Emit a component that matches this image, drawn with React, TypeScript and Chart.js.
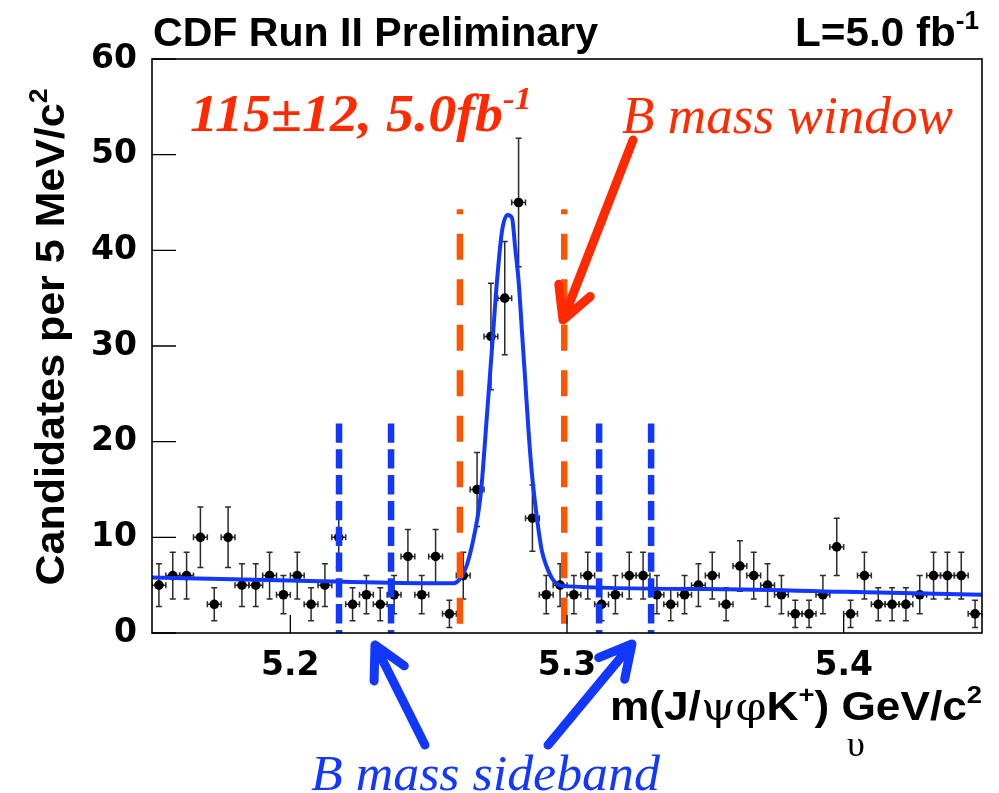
import React, { useEffect, useRef } from "react";
import { Chart, registerables } from "chart.js";

Chart.register(...registerables);

// ---------------- data ----------------
const X_MIN = 5.15;
const X_MAX = 5.45;
const Y_MIN = 0;
const Y_MAX = 60;
const BIN_WIDTH = 0.005;
const X_TICKS = [5.2, 5.3, 5.4];
const Y_TICKS = [0, 10, 20, 30, 40, 50, 60];

const BIN_CENTERS = [
  5.1525, 5.1575, 5.1625, 5.1675, 5.1725, 5.1775, 5.1825, 5.1875, 5.1925, 5.1975,
  5.2025, 5.2075, 5.2125, 5.2175, 5.2225, 5.2275, 5.2325, 5.2375, 5.2425, 5.2475,
  5.2525, 5.2575, 5.2625, 5.2675, 5.2725, 5.2775, 5.2825, 5.2875, 5.2925, 5.2975,
  5.3025, 5.3075, 5.3125, 5.3175, 5.3225, 5.3275, 5.3325, 5.3375, 5.3425, 5.3475,
  5.3525, 5.3575, 5.3625, 5.3675, 5.3725, 5.3775, 5.3825, 5.3875, 5.3925, 5.3975,
  5.4025, 5.4075, 5.4125, 5.4175, 5.4225, 5.4275, 5.4325, 5.4375, 5.4425, 5.4475,
];

const COUNTS = [
  5, 6, 6, 10, 3, 10, 5, 5, 6, 4,
  6, 3, 5, 10, 3, 4, 3, 4, 8, 4,
  8, 2, 6, 15, 31, 35, 45, 12, 4, 5,
  4, 6, 3, 4, 6, 6, 4, 3, 4, 5,
  6, 3, 7, 6, 5, 4, 2, 2, 4, 9,
  2, 6, 3, 3, 3, 4, 6, 6, 6, 2,
];

// fit curve
const FIT_MASS = [
  5.15, 5.2, 5.25, 5.2589, 5.2614, 5.2638, 5.2661, 5.2679, 5.269, 5.2711, 5.2729,
  5.2747, 5.2765, 5.2785, 5.2801, 5.2813, 5.2825, 5.2837, 5.2849, 5.2861, 5.2873,
  5.2891, 5.2909, 5.2927, 5.2951, 5.2988, 5.35, 5.4, 5.45,
];
const FIT_VALUES = [
  5.8, 5.5, 5.2, 5.2, 5.7, 7.1, 9.7, 12.5, 15.0, 22.9, 29.8,
  36.8, 42.0, 43.7, 43.4, 40.2, 36.8, 31.6, 26.4, 21.1, 16.7,
  12.1, 8.6, 6.9, 5.5, 4.9, 4.6, 4.3, 4.0,
];

const WINDOW_EDGES = [5.2613, 5.299];
const WINDOW_TOP = 44.3;
const SIDEBAND_EDGES = [5.2176, 5.2364, 5.3116, 5.3304];
const SIDEBAND_TOP = 21.9;

// arrows: [tailX, tailY, tipX, tipY] in axis units
const RED_ARROW = [5.32385, 51.53, 5.29855, 32.72];
const BLUE_ARROWS = [
  [5.24867, -11.71, 5.2306, -1.25],
  [5.29313, -11.71, 5.32349, -1.15],
];

// ---------------- styles ----------------
const RED = "#ff2a00";
const ORANGE = "#ff5500";
const BLUE = "#1238ff";
const SANS = "'Liberation Sans', Arial, sans-serif";
const SERIF = "'Liberation Serif', 'Times New Roman', serif";
const TICK_FONT = "'DejaVu Sans', sans-serif";

type Seg = { t: string; sup?: boolean; weight?: string; family?: string };

function drawRich(
  ctx: CanvasRenderingContext2D,
  segs: Seg[],
  o: {
    x: number;
    y: number;
    size: number;
    family: string;
    weight?: string;
    style?: string;
    color: string;
    width?: number;
    align?: "left" | "right" | "center";
    rotate?: number;
  }
) {
  const fontFor = (s: Seg) =>
    `${o.style || "normal"} ${s.weight || o.weight || "normal"} ${s.sup ? o.size * 0.62 : o.size}px ${
      s.family || o.family
    }`;
  let natural = 0;
  const widths = segs.map((s) => {
    ctx.font = fontFor(s);
    const w = ctx.measureText(s.t).width;
    natural += w;
    return w;
  });
  const sx = o.width ? o.width / natural : 1;
  ctx.save();
  ctx.translate(o.x, o.y);
  if (o.rotate) ctx.rotate(o.rotate);
  ctx.scale(sx, 1);
  let cx = o.align === "right" ? -natural : o.align === "center" ? -natural / 2 : 0;
  ctx.fillStyle = o.color;
  ctx.textBaseline = "alphabetic";
  ctx.textAlign = "left";
  segs.forEach((s, i) => {
    ctx.font = fontFor(s);
    ctx.fillText(s.t, cx, s.sup ? -o.size * 0.42 : 0);
    cx += widths[i];
  });
  ctx.restore();
}

function drawArrow(
  ctx: CanvasRenderingContext2D,
  tx: number,
  ty: number,
  hx: number,
  hy: number,
  color: string,
  lw: number
) {
  const ang = Math.atan2(ty - hy, tx - hx);
  const len = 36;
  const spread = (28 * Math.PI) / 180;
  ctx.save();
  ctx.strokeStyle = color;
  ctx.lineWidth = lw;
  ctx.lineCap = "round";
  ctx.lineJoin = "round";
  ctx.beginPath();
  ctx.moveTo(tx, ty);
  ctx.lineTo(hx, hy);
  ctx.moveTo(hx + len * Math.cos(ang + spread), hy + len * Math.sin(ang + spread));
  ctx.lineTo(hx, hy);
  ctx.lineTo(hx + len * Math.cos(ang - spread), hy + len * Math.sin(ang - spread));
  ctx.stroke();
  ctx.restore();
}

const decor = {
  id: "cdfDecor",
  beforeDatasetsDraw(chart: any) {
    const { ctx, chartArea: a, scales } = chart;
    const x = scales.x;
    const y = scales.y;
    ctx.save();
    ctx.beginPath();
    ctx.rect(a.left, a.top, a.right - a.left, a.bottom - a.top);
    ctx.clip();
    ctx.strokeStyle = "#2b2b2b";
    ctx.lineWidth = 1.5;
    BIN_CENTERS.forEach((c, i) => {
      const n = COUNTS[i];
      const e = Math.sqrt(n);
      const px = x.getPixelForValue(c);
      const py = y.getPixelForValue(n);
      const yt = y.getPixelForValue(n + e);
      const yb = y.getPixelForValue(n - e);
      const xl = x.getPixelForValue(c - BIN_WIDTH / 2);
      const xr = x.getPixelForValue(c + BIN_WIDTH / 2);
      ctx.beginPath();
      ctx.moveTo(px, yt);
      ctx.lineTo(px, yb);
      ctx.moveTo(px - 3, yt);
      ctx.lineTo(px + 3, yt);
      ctx.moveTo(px - 3, yb);
      ctx.lineTo(px + 3, yb);
      ctx.moveTo(xl, py);
      ctx.lineTo(xr, py);
      ctx.moveTo(xl, py - 3);
      ctx.lineTo(xl, py + 3);
      ctx.moveTo(xr, py - 3);
      ctx.lineTo(xr, py + 3);
      ctx.stroke();
    });
    ctx.restore();
  },
  afterDraw(chart: any) {
    const { ctx, chartArea: a, scales } = chart;
    const x = scales.x;
    const y = scales.y;
    ctx.save();
    // frame
    ctx.strokeStyle = "#000";
    ctx.lineWidth = 1.6;
    ctx.strokeRect(a.left, a.top, a.right - a.left, a.bottom - a.top);
    // inside tick marks
    ctx.lineWidth = 1.3;
    ctx.beginPath();
    Y_TICKS.forEach((v) => {
      const py = y.getPixelForValue(v);
      ctx.moveTo(a.left, py);
      ctx.lineTo(a.left + 24, py);
    });
    X_TICKS.forEach((v) => {
      const px = x.getPixelForValue(v);
      ctx.moveTo(px, a.bottom);
      ctx.lineTo(px, a.bottom - 18);
    });
    ctx.stroke();
    ctx.restore();

    // arrows
    drawArrow(
      ctx,
      x.getPixelForValue(RED_ARROW[0]),
      y.getPixelForValue(RED_ARROW[1]),
      x.getPixelForValue(RED_ARROW[2]),
      y.getPixelForValue(RED_ARROW[3]),
      RED,
      9
    );
    BLUE_ARROWS.forEach((ar) =>
      drawArrow(
        ctx,
        x.getPixelForValue(ar[0]),
        y.getPixelForValue(ar[1]),
        x.getPixelForValue(ar[2]),
        y.getPixelForValue(ar[3]),
        BLUE,
        9
      )
    );

    // texts
    drawRich(ctx, [{ t: "CDF Run II Preliminary" }], {
      x: 153, y: 46, size: 41, family: SANS, weight: "bold", color: "#000", width: 445,
    });
    drawRich(ctx, [{ t: "L=5.0 fb" }, { t: "-1", sup: true }], {
      x: 979, y: 46, size: 41, family: SANS, weight: "bold", color: "#000", width: 184, align: "right",
    });
    drawRich(ctx, [{ t: "115±12, 5.0fb" }, { t: "-1", sup: true }], {
      x: 190, y: 131, size: 52, family: SERIF, weight: "bold", style: "italic", color: RED, width: 342,
    });
    drawRich(ctx, [{ t: "B mass window" }], {
      x: 622, y: 133, size: 52, family: SERIF, style: "italic", color: RED, width: 331,
    });
    drawRich(ctx, [{ t: "B mass sideband" }], {
      x: 311, y: 790, size: 50, family: SERIF, style: "italic", color: BLUE, width: 349,
    });
    drawRich(
      ctx,
      [
        { t: "m(J/" },
        { t: "ψφ", weight: "normal", family: "'DejaVu Serif', serif" },
        { t: "K" },
        { t: "+", sup: true },
        { t: ") GeV/c" },
        { t: "2", sup: true },
      ],
      { x: 610, y: 720, size: 40, family: SANS, weight: "bold", color: "#000", width: 372 }
    );
    drawRich(ctx, [{ t: "υ" }], {
      x: 856, y: 756, size: 36, family: SERIF, color: "#000", align: "center",
    });
    drawRich(
      ctx,
      [{ t: "Candidates per 5 MeV/c" }, { t: "2", sup: true }],
      {
        x: 64, y: 337, size: 41, family: SANS, weight: "bold", color: "#000",
        width: 497, align: "center", rotate: -Math.PI / 2,
      }
    );
  },
};

export default function App() {
  const ref = useRef<HTMLCanvasElement>(null);
  useEffect(() => {
    const canvas = ref.current!;
    const vline = (xv: number, top: number, color: string, dash: number[], offset: number) => ({
      type: "line" as const,
      data: [
        { x: xv, y: top },
        { x: xv, y: 0 },
      ],
      borderColor: color,
      borderWidth: 6.5,
      borderDash: dash,
      borderDashOffset: offset,
      borderCapStyle: "butt" as const,
      pointRadius: 0,
      order: 1,
    });
    const chart = new Chart(canvas, {
      type: "scatter",
      data: {
        datasets: [
          ...WINDOW_EDGES.map((v) => vline(v, WINDOW_TOP, ORANGE, [26, 19.5], 21)),
          ...SIDEBAND_EDGES.map((v) => vline(v, SIDEBAND_TOP, BLUE, [19.3, 6.5], 0)),
          {
            type: "line",
            data: FIT_MASS.map((m, i) => ({ x: m, y: FIT_VALUES[i] })),
            borderColor: BLUE,
            borderWidth: 4,
            pointRadius: 0,
            cubicInterpolationMode: "monotone",
            order: 2,
          },
          {
            type: "scatter",
            data: BIN_CENTERS.map((c, i) => ({ x: c, y: COUNTS[i] })),
            pointRadius: 4.8,
            pointBackgroundColor: "#000",
            pointBorderWidth: 0,
            order: 3,
          },
        ] as any,
      },
      options: {
        responsive: false,
        animation: false,
        events: [],
        layout: { padding: { left: 0, top: 59, right: 17, bottom: 0 } },
        plugins: { legend: { display: false }, tooltip: { enabled: false } },
        scales: {
          x: {
            type: "linear",
            min: X_MIN,
            max: X_MAX,
            afterFit: (s: any) => {
              s.height = 160;
            },
            afterBuildTicks: (s: any) => {
              s.ticks = X_TICKS.map((v) => ({ value: v }));
            },
            grid: { display: false },
            border: { display: false },
            ticks: {
              autoSkip: false,
              maxRotation: 0,
              padding: 6,
              color: "#000",
              font: { family: TICK_FONT, weight: "bold", size: 33 },
              callback: (v: any) => Number(v).toFixed(1),
            },
          },
          y: {
            type: "linear",
            min: Y_MIN,
            max: Y_MAX,
            afterFit: (s: any) => {
              s.width = 152;
            },
            afterBuildTicks: (s: any) => {
              s.ticks = Y_TICKS.map((v) => ({ value: v }));
            },
            grid: { display: false },
            border: { display: false },
            ticks: {
              autoSkip: false,
              padding: 7,
              color: "#000",
              font: { family: TICK_FONT, weight: "bold", size: 33 },
              callback: (v: any) => String(v),
            },
          },
        },
      } as any,
      plugins: [decor],
    });
    return () => chart.destroy();
  }, []);
  return (
    <div style={{ position: "fixed", left: 0, top: 0, width: 999, height: 793, background: "#fff" }}>
      <canvas ref={ref} width={999} height={793} style={{ width: 999, height: 793, display: "block" }} />
    </div>
  );
}
